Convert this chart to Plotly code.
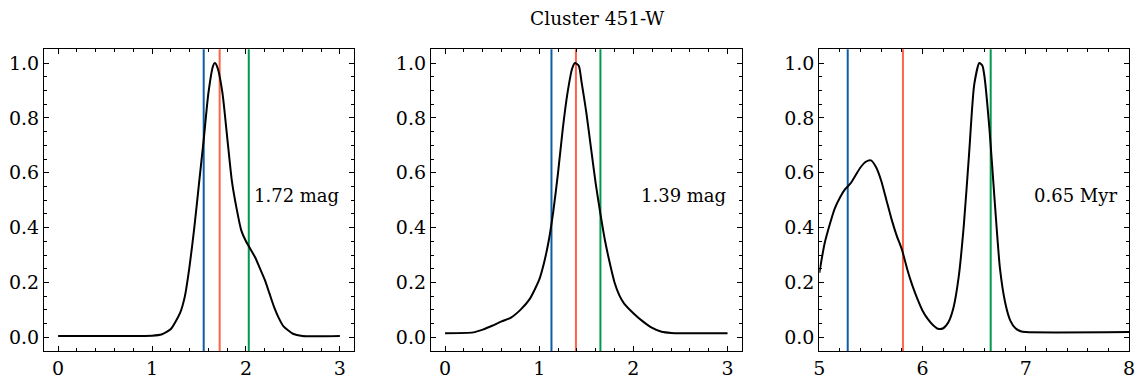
"""Posterior-like distributions for cluster 451-W."""
import plotly.graph_objects as go

TITLE = "Cluster 451-W"

# panel 1 (magnitude)
x_mag1 = [0.0, 0.5, 1.0, 1.1, 1.2, 1.3, 1.35, 1.4, 1.45, 1.5, 1.55, 1.6, 1.65, 1.67,
          1.7, 1.75, 1.8, 1.85, 1.9, 1.95, 2.0, 2.05, 2.1, 2.15, 2.2, 2.25, 2.3,
          2.35, 2.4, 2.5, 2.6, 3.0]
y_mag1 = [0.005, 0.005, 0.006, 0.01, 0.03, 0.09, 0.15, 0.26, 0.40, 0.56, 0.72, 0.89,
          0.99, 1.0, 0.98, 0.89, 0.73, 0.57, 0.47, 0.39, 0.35, 0.32, 0.29, 0.25,
          0.21, 0.16, 0.11, 0.07, 0.04, 0.013, 0.005, 0.005]
lines_mag1 = [1.55, 1.72, 2.03]
label_mag1 = "1.72 mag"

# panel 2 (magnitude)
x_mag2 = [0.0, 0.3, 0.4, 0.5, 0.6, 0.7, 0.8, 0.9, 1.0, 1.05, 1.1, 1.15, 1.2, 1.25,
          1.3, 1.35, 1.38, 1.42, 1.45, 1.5, 1.55, 1.6, 1.65, 1.7, 1.75, 1.8, 1.85,
          1.9, 2.0, 2.1, 2.2, 2.3, 2.4, 3.0]
y_mag2 = [0.015, 0.018, 0.028, 0.042, 0.058, 0.072, 0.10, 0.14, 0.21, 0.27, 0.35,
          0.46, 0.60, 0.76, 0.89, 0.98, 1.0, 0.99, 0.93, 0.82, 0.69, 0.56, 0.45,
          0.35, 0.27, 0.20, 0.154, 0.124, 0.088, 0.058, 0.034, 0.02, 0.016, 0.015]
lines_mag2 = [1.13, 1.39, 1.65]
label_mag2 = "1.39 mag"

# panel 3 (age)
x_age = [5.0, 5.05, 5.1, 5.15, 5.2, 5.25, 5.3, 5.35, 5.4, 5.45, 5.5, 5.55, 5.6, 5.65,
         5.7, 5.75, 5.8, 5.85, 5.9, 5.95, 6.0, 6.05, 6.1, 6.15, 6.2, 6.25, 6.3,
         6.35, 6.4, 6.45, 6.5, 6.55, 6.58, 6.6, 6.65, 6.7, 6.75, 6.8, 6.85, 6.9,
         6.95, 7.0, 8.0]
y_age = [0.235, 0.34, 0.41, 0.47, 0.51, 0.54, 0.56, 0.59, 0.62, 0.64, 0.645, 0.62,
         0.57, 0.50, 0.43, 0.37, 0.32, 0.25, 0.19, 0.14, 0.097, 0.067, 0.045, 0.031,
         0.033, 0.055, 0.109, 0.22, 0.41, 0.665, 0.92, 1.0, 0.99, 0.95, 0.75, 0.49,
         0.25, 0.127, 0.061, 0.033, 0.022, 0.019, 0.019]
lines_age = [5.275, 5.81, 6.66]
label_age = "0.65 Myr"

LINE_COLORS = ["#0C5DA5", "#FF6347", "#00994D"]
FONT = "DejaVu Serif"

panels = [
    dict(x=x_mag1, y=y_mag1, vl=lines_mag1, label=label_mag1, xr=[-0.15, 3.15],
         dom=[0.0385, 0.3094], lx=0.957),
    dict(x=x_mag2, y=y_mag2, vl=lines_mag2, label=label_mag2, xr=[-0.15, 3.15],
         dom=[0.3767, 0.6483], lx=0.955),
    dict(x=x_age, y=y_age, vl=lines_age, label=label_age, xr=[5, 8],
         dom=[0.7162, 0.9869], lx=0.969),
]

fig = go.Figure()
ydom = [0.0859, 0.8716]

for i, p in enumerate(panels, start=1):
    xa = "x" if i == 1 else f"x{i}"
    ya = "y" if i == 1 else f"y{i}"
    for xv, col in zip(p["vl"], LINE_COLORS):
        fig.add_shape(type="line", xref=xa, yref=f"{ya} domain", x0=xv, x1=xv,
                      y0=0, y1=1, line=dict(color=col, width=2), layer="below")
    fig.add_trace(go.Scatter(x=p["x"], y=p["y"], mode="lines", xaxis=xa, yaxis=ya,
                             line=dict(color="black", width=2, shape="spline",
                                       smoothing=0.6),
                             showlegend=False))
    fig.add_annotation(text=p["label"], xref=f"{xa} domain", yref=f"{ya} domain",
                       x=p["lx"], y=0.517, xanchor="right", yanchor="middle",
                       showarrow=False, font=dict(size=18, color="black", family=FONT))
    axis_common = dict(showline=True, linecolor="black", linewidth=1.2, mirror="allticks",
                       ticks="inside", ticklen=5, tickwidth=1, tickcolor="black",
                       showgrid=False, zeroline=False, automargin=False,
                       tickfont=dict(size=19, color="black", family=FONT))
    fig.layout[f"xaxis{i if i > 1 else ''}"] = dict(
        axis_common, domain=p["dom"], range=p["xr"], dtick=1, anchor=ya,
        minor=dict(ticks="inside", ticklen=2.5, dtick=0.2, tickcolor="black",
                   showgrid=False))
    fig.layout[f"yaxis{i if i > 1 else ''}"] = dict(
        axis_common, domain=ydom, range=[-0.05, 1.05], dtick=0.2, tickformat=".1f",
        anchor=xa,
        minor=dict(ticks="inside", ticklen=2.5, dtick=0.05, tickcolor="black",
                   showgrid=False))

fig.update_layout(
    width=1144, height=384,
    margin=dict(l=0, r=0, t=0, b=0),
    paper_bgcolor="white", plot_bgcolor="white",
    title=dict(text=TITLE, x=0.522, xanchor="center", y=0.953, yanchor="middle",
               font=dict(size=18.5, color="black", family=FONT)),
    font=dict(family=FONT, color="black"),
)

fig.write_html("out.html", config={"displayModeBar": False},
               post_script="document.body.style.margin='0';")
